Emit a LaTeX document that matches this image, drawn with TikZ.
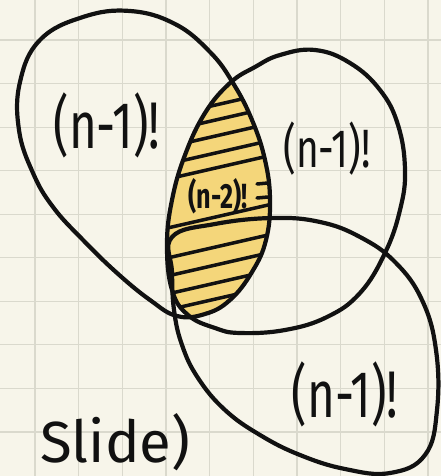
\documentclass[tikz,border=0pt]{standalone}
\usepackage{fontspec}
\setmainfont{Fira Sans}
\newfontfamily\handfont[FakeStretch=0.72]{Fira Sans}
\usetikzlibrary{calc}
\definecolor{vnpaper}{HTML}{F7F5EA}
\definecolor{vngrid}{HTML}{DAD9CD}
\definecolor{vnink}{HTML}{111111}
\definecolor{vnyellow}{HTML}{F4D67A}
\tikzset{
  vn grid/.style={draw=vngrid, line width=1.1pt},
  vn blob/.style={draw=vnink, line width=4.2pt, line cap=round, line join=round},
  vn hatch/.style={draw=vnink, line width=3.5pt, line cap=round},
  vn label/.style={text=vnink, inner sep=0pt},
  vn big/.style={vn label, font=\handfont\fontsize{66}{66}\selectfont},
  vn mid/.style={vn label, font=\handfont\fontsize{54}{54}\selectfont},
  vn small/.style={vn label, font=\handfont\bfseries\fontsize{35}{35}\selectfont},
  blob a/.style={insert path={plot[smooth cycle, tension=.7] coordinates {
    (40,40) (83,17) (130,11) (175,24) (210,52) (233,83) (252,120) (265,160)
    (270,200) (266,240) (252,272) (230,300) (205,314) (177,316) (150,300)
    (117,273) (83,240) (53,207) (33,173) (19,130) (20,82)}}},
  blob b/.style={insert path={plot[smooth cycle, tension=.7] coordinates {
    (230,83) (205,113) (185,155) (172,200) (167,245) (172,290) (188,315)
    (215,328) (240,333) (285,330) (327,317) (360,293) (385,253) (400,210)
    (405,170) (398,125) (380,90) (350,63) (315,50) (280,55) (255,67)}}},
  blob c/.style={insert path={plot[smooth cycle, tension=.7] coordinates {
    (172,237) (215,224) (273,218) (320,222) (360,237) (395,262) (422,300)
    (436,350) (437,410) (425,455) (390,473) (345,469) (300,455) (260,435)
    (225,410) (198,378) (182,345) (174,310) (172,272)}}}
}

\begin{document}
\begin{tikzpicture}[x=1pt, y=-1pt]
  \useasboundingbox[fill=vnpaper] (0,0) rectangle (441,476);
  % squared paper
  \foreach \k in {0,...,9} {
    \draw[vn grid] ({35+43.67*\k},0) -- ++(0,476);
    \draw[vn grid] (0,{40+43.56*\k}) -- ++(441,0);
  }
  % shaded overlap of the two upper sets
  \begin{scope}
    \clip[blob a];
    \clip[blob b];
    \fill[vnyellow] (150,70) rectangle (290,340);
    \foreach \y in {104,119,135,152,167,216,246,264,282,298}
      \draw[vn hatch] (150,{\y+16}) -- (290,{\y-16});
    \draw[vn hatch] (257,184) -- (268,183);
    \draw[vn hatch] (257,198) -- (268,197);
  \end{scope}
  \draw[vn blob, blob a];
  \draw[vn blob, blob b];
  \draw[vn blob, blob c];
  \node[vn big] (left) at (107,125) {(n-1)!};
  \node[vn mid] (right) at (327,149) {(n-1)!};
  \node[vn big] (bottom) at (345,394) {(n-1)!};
  \node[vn small] (both) at (218,196) {(n-2)!};
  \node[vn label, font=\fontsize{58}{58}\selectfont, anchor=base west] (slide) at (40,462) {Slide)};
\end{tikzpicture}
\end{document}
